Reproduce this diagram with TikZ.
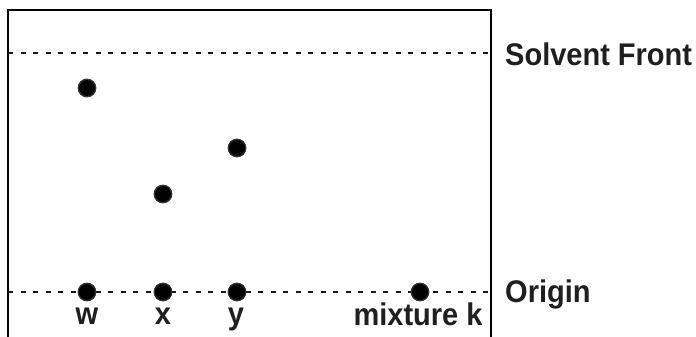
\documentclass[tikz,border=0pt]{standalone}
\usepackage{fontspec}
\usepackage{graphicx}
\setmainfont{Liberation Sans}
% bold sans label, set slightly tall
\newcommand{\talltext}[1]{\scalebox{1}[1.08]{#1}}
\begin{document}
\begin{tikzpicture}[x=1pt,y=-1pt,
  plate/.style={line width=2.6pt,black},
  level/.style={line width=2.2pt,dash pattern=on 5pt off 7.5pt,black!90},
  spot/.style={circle,fill=black,draw=black!80,line width=1.3pt,minimum size=17.5pt,inner sep=0pt},
  lbl/.style={font=\fontsize{29}{30}\selectfont\bfseries,text=black!88,inner sep=0pt},
]
\useasboundingbox (0,0) rectangle (696,337);
% the plate: open at the bottom
\coordinate (pl) at (8,337);
\coordinate (pr) at (491,337);
\draw[plate] (pl) -- (8,10) -- (491,10) -- (pr);
% solvent front and origin lines
\coordinate (sf0) at (8,53);
\coordinate (sf1) at (491,53);
\coordinate (or0) at (8,292);
\coordinate (or1) at (491,292);
\draw[level] (sf0) -- (sf1);
\draw[level] (or0) -- (or1);
% spots on the origin line
\node[spot] (w0) at (87,292) {};
\node[spot] (x0) at (163,292) {};
\node[spot] (y0) at (237,292) {};
\node[spot] (k0) at (420,292) {};
% developed spots
\node[spot] (w1) at (87,88) {};
\node[spot] (x1) at (163,194) {};
\node[spot] (y1) at (237,148) {};
% labels
\node[lbl,anchor=base] (lw) at (87,324) {\talltext{w}};
\node[lbl,anchor=base] (lx) at (163,324) {\talltext{x}};
\node[lbl,anchor=base] (ly) at (236,324) {\talltext{y}};
\node[lbl,anchor=base] (lk) at (418,325) {\talltext{mixture k}};
\node[lbl,anchor=base west] (lsf) at (505,66) {\talltext{Solvent Front}};
\node[lbl,anchor=base west] (lor) at (505,302) {\talltext{Origin}};
\end{tikzpicture}
\end{document}
